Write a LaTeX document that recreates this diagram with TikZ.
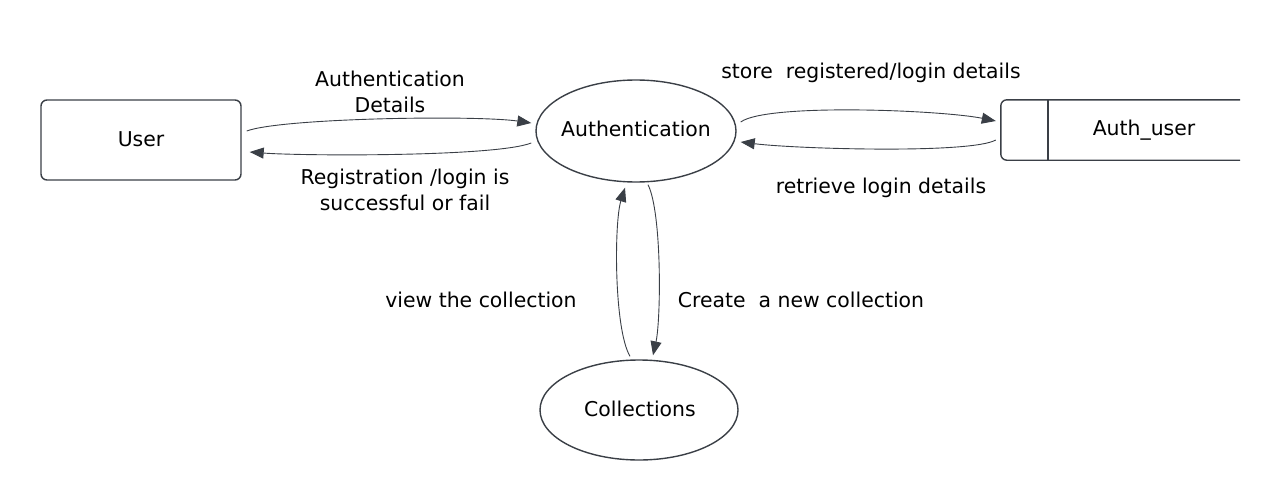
\documentclass[tikz,border=0pt]{standalone}
\usepackage{fontspec}
\setmainfont{DejaVu Sans}
\usetikzlibrary{arrows.meta,calc,shapes.geometric}
\definecolor{ink}{HTML}{3A3F46}
\begin{document}
\begin{tikzpicture}[x=1pt,y=-1pt,
  every node/.style={font=\fontsize{20.4}{26}\selectfont, text=black},
  outl/.style={draw=ink, line width=1.4pt},
  flow/.style={draw=ink, line width=0.9pt, -{Triangle[length=14pt,width=11pt]}},
  lbl/.style={align=center, inner sep=0pt}]
\useasboundingbox (0,0) rectangle (1282,495);
% nodes
\node[outl, rounded corners=6pt, minimum width=200pt, minimum height=80pt, inner sep=0pt] (user) at (141,140) {};
\node[inner sep=0pt] (usertext) at (141,139) {User};
\node[outl, ellipse, minimum width=200pt, minimum height=102pt, inner sep=0pt] (auth) at (636,131) {};
\node[inner sep=0pt] (authtext) at (636,129) {Authentication};
\node[outl, ellipse, minimum width=198pt, minimum height=100pt, inner sep=0pt] (coll) at (639,410) {};
\node[inner sep=0pt] (colltext) at (640,409) {Collections};
\node[minimum width=239pt, minimum height=60pt, inner sep=0pt] (store) at (1120.5,130) {};
\node[inner sep=0pt] (storetext) at (1144,130) {Auth\_user};
\draw[outl, rounded corners=6pt] (store.north east) -- (store.north west) -- (store.south west) -- (store.south east);
\coordinate (divtop) at ($(store.north west)+(47,0)$);
\coordinate (divbot) at ($(store.south west)+(47,0)$);
\draw[outl] (divtop) -- (divbot);
% connectors
\draw[flow] ($(user.east)+(5,-9)$) .. controls ($(user.east)+(40,-22)$) and ($(auth.west)+(-60,-16)$) .. ($(auth.west)+(-4,-8)$);
\draw[flow] ($(auth.west)+(-4,12)$) .. controls ($(auth.west)+(-40,26)$) and ($(user.east)+(60,16)$) .. ($(user.east)+(8,12)$);
\draw[flow] ($(auth.east)+(4,-9)$) .. controls ($(auth.east)+(30,-28)$) and ($(store.west)+(-60,-20)$) .. ($(store.west)+(-5,-9)$);
\draw[flow] ($(store.west)+(-5,10)$) .. controls ($(store.west)+(-30,24)$) and ($(auth.east)+(60,18)$) .. ($(auth.east)+(4,11)$);
\draw[flow] ($(coll.north)+(-9,-3)$) .. controls ($(coll.north)+(-25,-30)$) and ($(auth.south)+(-22,40)$) .. ($(auth.south)+(-11,5)$);
\draw[flow] ($(auth.south)+(12,2)$) .. controls ($(auth.south)+(26,30)$) and ($(coll.north)+(22,-40)$) .. ($(coll.north)+(14,-4)$);
% labels
\node[lbl] (l1) at (390,92) {Authentication\\Details};
\node[lbl] (l2) at (405,190) {Registration /login is\\successful or fail};
\node[lbl] (l3) at (871,73) {store\ \ registered/login details};
\node[lbl] (l4) at (881,188) {retrieve login details};
\node[lbl] (l5) at (481,300) {view the collection};
\node[lbl] (l6) at (801,300) {Create\ \ a new collection};
\end{tikzpicture}
\end{document}
